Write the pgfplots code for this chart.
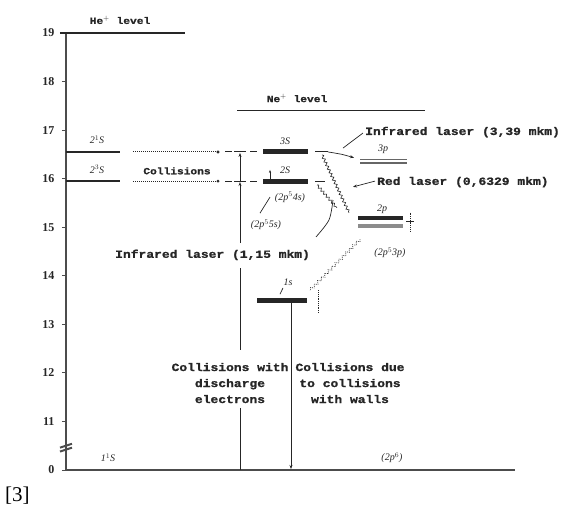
\documentclass[border=0pt]{standalone}
\usepackage{pgfplots}
\pgfplotsset{compat=1.18}
\usepackage{fontspec}
\setmainfont{Liberation Serif}
\newfontfamily\labfont[FakeStretch=1.18, BoldFeatures={FakeBold=1.2}]{Liberation Mono}
\usetikzlibrary{decorations.pathmorphing,arrows.meta}
\newcommand{\lab}{\labfont\bfseries\fontsize{11}{16}\selectfont}
\newcommand{\labs}{\labfont\bfseries\fontsize{9.5}{10}\selectfont}
\newcommand{\sml}{\itshape\fontsize{10}{11}\selectfont}
\colorlet{ink}{black!85}
\begin{document}
\begin{tikzpicture}
\useasboundingbox (-66pt,-40pt) rectangle (501pt,470pt);
\begin{axis}[
  scale only axis, width=449pt, height=437pt,
  xmin=66, xmax=515, ymin=10, ymax=19,
  axis x line=bottom, axis y line=left,
  axis line style={-, line width=1.3pt, black!70},
  xtick=\empty,
  ytick={10,11,...,19},
  yticklabels={0,11,12,13,14,15,16,17,18,19},
  tick align=outside, major tick length=4pt,
  tick style={line width=0.8pt, black!70},
  yticklabel style={font=\bfseries\fontsize{12}{13}\selectfont, text=ink, xshift=-4pt},
  /pgf/number format/assume math mode=true,
  clip=false,
]
% He levels
\addplot[ink, line width=1.3pt] coordinates {(60,19) (185,19)};
\addplot[ink, line width=1.3pt] coordinates {(66,16.55) (120,16.55)};
\addplot[ink, line width=1.3pt] coordinates {(66,15.95) (120,15.95)};
\addplot[ink, densely dotted, line width=1pt] coordinates {(133,16.55) (218,16.55)};
\addplot[ink, densely dotted, line width=1pt] coordinates {(133,15.95) (218,15.95)};
\addplot[ink, only marks, mark=*, mark size=1.3pt] coordinates {(218,16.55) (218,15.95)};
\addplot[ink, line width=1pt] coordinates {(225,16.55) (232,16.55)};
\addplot[ink, line width=1pt] coordinates {(225,15.95) (232,15.95)};
\addplot[ink, line width=1pt] coordinates {(234,16.55) (246,16.55)};
\addplot[ink, line width=1pt] coordinates {(234,15.95) (246,15.95)};
\addplot[ink, line width=1pt] coordinates {(250,16.55) (257,16.55)};
\addplot[ink, line width=1pt] coordinates {(250,15.95) (257,15.95)};
% vertical line of discharge collisions
\addplot[ink, line width=0.9pt, -{Stealth[length=4pt]}] coordinates {(240,15.95) (240,16.53)};
\addplot[ink, line width=0.9pt, -{Stealth[length=4pt]}] coordinates {(240,14.67) (240,15.93)};
\addplot[ink, line width=0.9pt] coordinates {(240,14.16) (240,12.47)};
\addplot[ink, line width=0.9pt] coordinates {(240,11.28) (240,10)};
% wall collisions
\addplot[ink, line width=0.9pt, -{Stealth[length=4pt]}] coordinates {(291,13.44) (291,10.02)};
% Ne+ level
\addplot[ink, line width=1.3pt] coordinates {(237,17.41) (425,17.41)};
% Ne levels
\addplot[ink, line width=5pt] coordinates {(263,16.55) (308,16.55)};
\addplot[ink, line width=5pt] coordinates {(263,15.95) (308,15.95)};
\addplot[ink, line width=1pt] coordinates {(315,16.55) (328,16.55)};
\addplot[ink, line width=1pt] coordinates {(315,15.95) (325,15.95)};
\addplot[black!60, line width=1.3pt] coordinates {(360,16.40) (407,16.40)};
\addplot[black!60, line width=1.3pt] coordinates {(360,16.32) (407,16.32)};
\addplot[ink, line width=4pt] coordinates {(358,15.18) (403,15.18)};
\addplot[black!45, line width=4pt] coordinates {(358,15.02) (403,15.02)};
\addplot[ink, line width=5pt] coordinates {(257,13.5) (307,13.5)};
% transitions
\addplot[ink, line width=0.6pt, decorate, decoration={snake, amplitude=1.3pt, segment length=4pt}] coordinates {(322,16.49) (349,15.30)};
\addplot[ink, line width=0.6pt, decorate, decoration={snake, amplitude=1.3pt, segment length=4pt}] coordinates {(317,15.87) (337,15.40)};
\addplot[ink, line width=0.7pt, densely dotted, decorate, decoration={snake, amplitude=1.5pt, segment length=5pt}] coordinates {(360,14.75) (310,13.70)};
% leaders
\addplot[ink, line width=0.7pt] coordinates {(363,16.94) (343,16.63)};
\addplot[ink, line width=0.7pt, smooth, -{Stealth[length=4pt]}] coordinates {(328,16.55) (342,16.50) (354,16.43)};
\addplot[ink, line width=0.7pt, -{Stealth[length=4pt]}] coordinates {(375,15.95) (353,15.83)};
\addplot[ink, line width=0.7pt, smooth] coordinates {(316,14.80) (329,15.15) (333,15.56)};
\addplot[ink, line width=0.7pt] coordinates {(260,15.29) (270,15.62)};
\addplot[ink, line width=0.7pt, -{Stealth[length=3pt]}] coordinates {(270,16.0) (270,16.18)};
\addplot[ink, line width=0.7pt] coordinates {(280,13.62) (283,13.75)};
\addplot[ink, line width=0.8pt, densely dotted] coordinates {(318,13.7) (318,13.25)};
\addplot[ink, line width=0.8pt, densely dotted] coordinates {(410,15.30) (410,14.90)};
\addplot[ink, line width=0.7pt] coordinates {(406,15.12) (414,15.12)};
% axis break
\draw[black!70, line width=2pt] (axis cs:60,10.38) -- (axis cs:72,10.46);
\draw[black!70, line width=2pt] (axis cs:60,10.46) -- (axis cs:72,10.54);
% labels
\node[text=ink, font=\labs] at (axis cs:120,19.27) {He$^{+}$ level};
\node[text=ink, font=\labs] at (axis cs:297,17.66) {Ne$^{+}$ level};
\node[text=ink, font=\sml] at (axis cs:97,16.80) {2$^1$S};
\node[text=ink, font=\sml] at (axis cs:97,16.19) {2$^3$S};
\node[text=ink, font=\labs] at (axis cs:177,16.16) {Collisions};
\node[text=ink, font=\sml] at (axis cs:285,16.77) {3S};
\node[text=ink, font=\sml] at (axis cs:285,16.17) {2S};
\node[text=ink, font=\sml] at (axis cs:290,15.62) {(2p$^5$4s)};
\node[text=ink, font=\sml] at (axis cs:266,15.05) {(2p$^5$5s)};
\node[text=ink, font=\sml] at (axis cs:383,16.60) {3p};
\node[text=ink, font=\sml] at (axis cs:382,15.38) {2p};
\node[text=ink, font=\sml] at (axis cs:390,14.47) {(2p$^5$3p)};
\node[text=ink, font=\sml] at (axis cs:288,13.86) {1s};
\node[text=ink, font=\sml] at (axis cs:108,10.25) {1$^1$S};
\node[text=ink, font=\sml] at (axis cs:392,10.25) {(2p$^6$)};
\node[text=ink, font=\lab, anchor=west, inner sep=0pt] at (axis cs:365,16.96) {Infrared laser (3,39 mkm)};
\node[text=ink, font=\lab, anchor=west, inner sep=0pt] at (axis cs:377,15.93) {Red laser (0,6329 mkm)};
\node[text=ink, font=\lab, anchor=west, inner sep=0pt] at (axis cs:115,14.43) {Infrared laser (1,15 mkm)};
\node[text=ink, font=\lab, align=center] at (axis cs:230,11.79) {Collisions with\\discharge\\electrons};
\node[text=ink, font=\lab, align=center] at (axis cs:350,11.79) {Collisions due\\to collisions\\with walls};
\node[font=\fontsize{21}{22}\selectfont, anchor=west, inner sep=0pt] at (axis cs:5,9.48) {[3]};
\end{axis}
\end{tikzpicture}
\end{document}
